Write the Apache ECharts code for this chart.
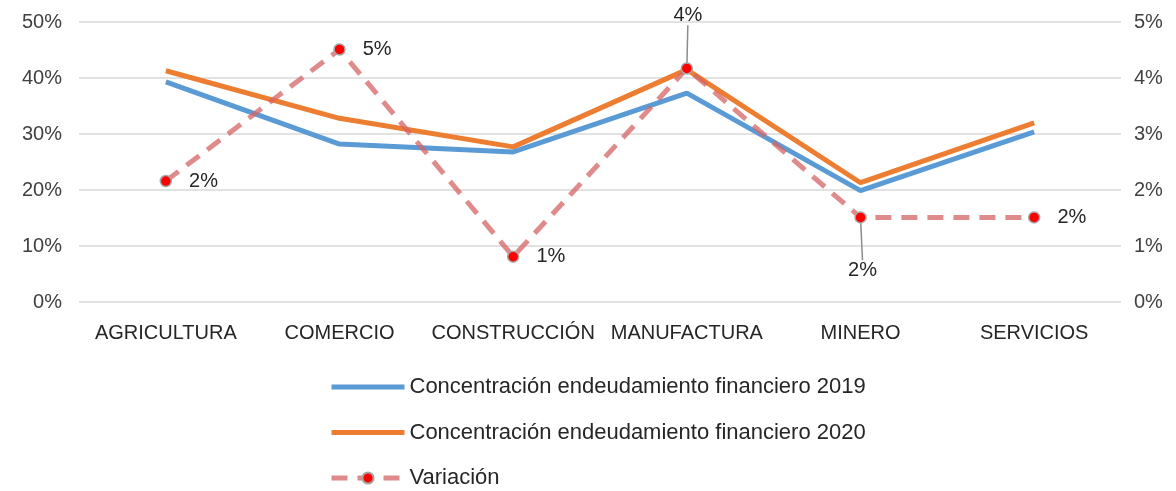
<!DOCTYPE html>
<html lang="es">
<head>
  <meta charset="UTF-8">
  <title>Concentración endeudamiento financiero</title>
  <style>
    body { margin: 0; padding: 0; background: #fff; }
    #chart { width: 1176px; height: 491px; }
  </style>
</head>
<body>
  <div id="chart"></div>
  <script src="https://cdn.jsdelivr.net/npm/echarts@6/dist/echarts.min.js"></script>
  <script>
    var sectores = ['AGRICULTURA', 'COMERCIO', 'CONSTRUCCIÓN', 'MANUFACTURA', 'MINERO', 'SERVICIOS'];
    var conc2019 = [39.3, 28.2, 26.8, 37.3, 19.9, 30.4];
    var conc2020 = [41.3, 32.8, 27.7, 41.5, 21.3, 32.0];
    var variacion = [2.16, 4.51, 0.81, 4.17, 1.51, 1.51];

    var fuente = '"Liberation Sans", Arial, sans-serif';
    var chart = echarts.init(document.getElementById('chart'));

    // etiquetas con línea guía (manufactura arriba, minero abajo)
    var datosVar = variacion.map(function (v, i) {
      if (i === 3 || i === 4) {
        return { value: v, labelLine: { show: true } };
      }
      return v;
    });

    var iconoLinea = 'path://M0,0H73V5H0Z';

    var option = {
      animation: false,
      textStyle: { fontFamily: fuente },
      grid: { left: 79, right: 55, top: 22, bottom: 189 },
      legend: {
        orient: 'vertical',
        left: 329,
        top: 376,
        padding: 0,
        itemWidth: 73,
        itemHeight: 14,
        itemGap: 23.5,
        textStyle: { fontSize: 22, color: '#262626', fontFamily: fuente },
        data: [
          { name: 'Concentración endeudamiento financiero 2019', icon: iconoLinea },
          { name: 'Concentración endeudamiento financiero 2020', icon: iconoLinea },
          { name: 'Variación', lineStyle: { width: 5, type: [16, 10] } }
        ]
      },
      xAxis: {
        type: 'category',
        data: sectores,
        axisLine: { show: false },
        axisTick: { show: false },
        axisLabel: { interval: 0, fontSize: 20, color: '#262626', margin: 21 }
      },
      yAxis: [{
        type: 'value',
        min: 0, max: 50, interval: 10,
        axisLabel: { formatter: '{value}%', fontSize: 20, color: '#404040', margin: 17 },
        splitLine: { lineStyle: { color: '#d9d9d9', width: 1.5 } }
      }, {
        type: 'value',
        min: 0, max: 5, interval: 1,
        axisLabel: { formatter: '{value}%', fontSize: 20, color: '#404040', margin: 13 },
        splitLine: { show: false }
      }],
      series: [{
        name: 'Concentración endeudamiento financiero 2019',
        type: 'line',
        data: conc2019,
        symbol: 'none',
        lineStyle: { color: '#5b9bd5', width: 5 },
        itemStyle: { color: '#5b9bd5' },
        z: 2
      }, {
        name: 'Concentración endeudamiento financiero 2020',
        type: 'line',
        data: conc2020,
        symbol: 'none',
        lineStyle: { color: '#ed7d31', width: 5 },
        itemStyle: { color: '#ed7d31' },
        z: 3
      }, {
        name: 'Variación',
        type: 'line',
        yAxisIndex: 1,
        data: datosVar,
        symbol: 'circle',
        symbolSize: 11,
        lineStyle: { color: 'rgba(214,100,100,0.75)', width: 5, type: [16, 10] },
        itemStyle: { color: '#ff0000', borderColor: '#a6a6a6', borderWidth: 1.5 },
        z: 4,
        label: {
          show: true,
          position: 'right',
          distance: 17,
          fontSize: 20,
          color: '#262626',
          formatter: function (p) { return Math.round(p.value) + '%'; }
        },
        labelLine: { show: false, lineStyle: { color: '#8c8c8c', width: 1.5 } },
        labelLayout: function (p) {
          var cx = p.rect.x + p.rect.width / 2;
          if (p.dataIndex === 3) {
            return { x: cx + 1, y: p.rect.y - 47, align: 'center', verticalAlign: 'middle' };
          }
          if (p.dataIndex === 4) {
            return { x: cx + 2, y: p.rect.y + 59, align: 'center', verticalAlign: 'middle' };
          }
          return {};
        }
      }]
    };

    chart.setOption(option);
  </script>
</body>
</html>
